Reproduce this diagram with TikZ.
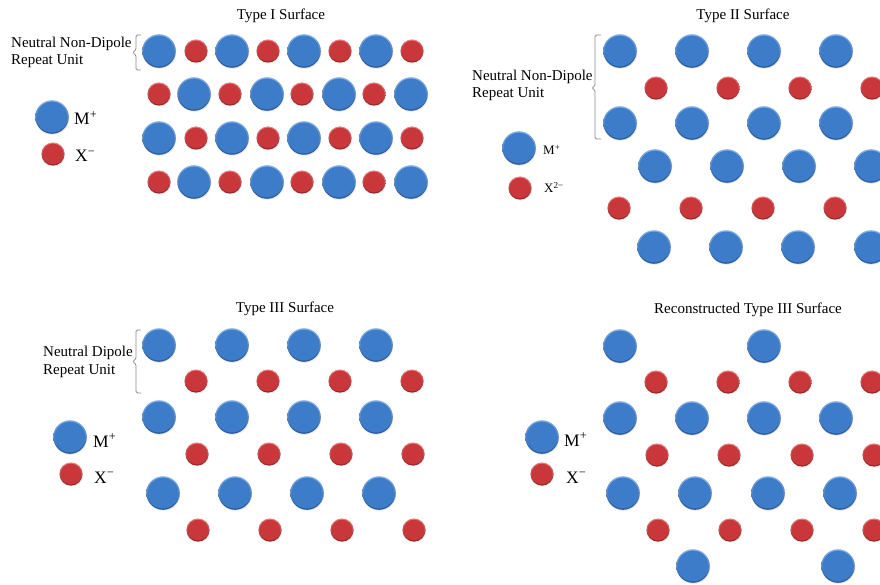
\documentclass[tikz,border=0pt]{standalone}
\usepackage{fontspec}
\setmainfont{Liberation Serif}
\usetikzlibrary{shadows}
\definecolor{bmain}{HTML}{3D7CC9}
\definecolor{btop}{HTML}{86B3EA}
\definecolor{bbot}{HTML}{28589A}
\definecolor{rmain}{HTML}{C9373A}
\definecolor{rtop}{HTML}{EC8080}
\definecolor{rbot}{HTML}{8C2226}
\definecolor{bracegray}{HTML}{8A8A8A}
\tikzset{
  cation/.style={circle, minimum size=33.6pt, inner sep=0pt,
    top color=btop, bottom color=bbot,
    path picture={\fill[bmain] (path picture bounding box.center) circle (15.4pt);},
    drop shadow={opacity=0.18, shadow xshift=0.5pt, shadow yshift=-1pt}},
  anion/.style={circle, minimum size=23.2pt, inner sep=0pt,
    top color=rtop, bottom color=rbot,
    path picture={\fill[rmain] (path picture bounding box.center) circle (10.4pt);},
    drop shadow={opacity=0.18, shadow xshift=0.5pt, shadow yshift=-1pt}},
  title/.style={font=\fontsize{15}{18}\selectfont, inner sep=0pt},
  note/.style={font=\fontsize{15}{17.5}\selectfont, align=left, anchor=base west, inner sep=0pt},
  lab/.style={font=\fontsize{17.5}{20}\selectfont, anchor=base west, inner sep=0pt},
  labsmall/.style={font=\fontsize{13}{15}\selectfont, anchor=base west, inner sep=0pt},
  bracket/.style={draw=bracegray, line width=0.8pt, rounded corners=1.5pt}
}
\begin{document}
\begin{tikzpicture}[x=1pt,y=-1pt]
\useasboundingbox (0,0) rectangle (880,585);
\clip (0,0) rectangle (880,585);

% ---------------- Panel 1: Type I ----------------
\node[title] (t1) at (281,15.5) {Type I Surface};
\node[note] (n1) at (11,65) {Neutral Non-Dipole\\Repeat Unit};
\draw[bracket] (141,35) -| (136,50) -- (132.5,52.5) -- (136,55) |- (141,70);
\foreach \x [count=\i] in {159,232,304,376} \node[cation] (p1a\i) at (\x,51) {};
\foreach \x [count=\i] in {196,268,340,412} \node[anion] (p1b\i) at (\x,51) {};
\foreach \x [count=\i] in {159,230,302,374} \node[anion] (p1c\i) at (\x,94) {};
\foreach \x [count=\i] in {194,267,339,411} \node[cation] (p1d\i) at (\x,94) {};
\foreach \x [count=\i] in {159,232,304,376} \node[cation] (p1e\i) at (\x,138) {};
\foreach \x [count=\i] in {196,268,340,412} \node[anion] (p1f\i) at (\x,138) {};
\foreach \x [count=\i] in {159,230,302,374} \node[anion] (p1g\i) at (\x,182) {};
\foreach \x [count=\i] in {194,267,339,411} \node[cation] (p1h\i) at (\x,182) {};
\node[cation] (l1m) at (52,117) {};
\node[anion] (l1x) at (53,154) {};
\node[lab] (l1mt) at (74,125) {M\textsuperscript{+}};
\node[lab] (l1xt) at (75,162) {X\textsuperscript{−}};

% ---------------- Panel 2: Type II ----------------
\node[title] (t2) at (743,15.5) {Type II Surface};
\node[note] (n2) at (472,98) {Neutral Non-Dipole\\Repeat Unit};
\draw[bracket] (601,35) -| (595,86) -- (591.5,88) -- (595,90) |- (601,139);
\foreach \x [count=\i] in {620,692,764,836} \node[cation] (p2a\i) at (\x,51) {};
\foreach \x [count=\i] in {656,728,800,872} \node[anion] (p2b\i) at (\x,88) {};
\foreach \x [count=\i] in {620,692,764,836} \node[cation] (p2c\i) at (\x,123) {};
\foreach \x [count=\i] in {655,727,799,871} \node[cation] (p2d\i) at (\x,166) {};
\foreach \x [count=\i] in {619,691,763,835} \node[anion] (p2e\i) at (\x,208) {};
\foreach \x [count=\i] in {654,726,798,871} \node[cation] (p2f\i) at (\x,247) {};
\node[cation] (l2m) at (519,148) {};
\node[anion] (l2x) at (520,188) {};
\node[labsmall] (l2mt) at (543,155) {M\textsuperscript{+}};
\node[labsmall] (l2xt) at (544,193) {X\textsuperscript{2−}};

% ---------------- Panel 3: Type III ----------------
\node[title] (t3) at (285,309) {Type III Surface};
\node[note] (n3) at (43,374) {Neutral Dipole\\Repeat Unit};
\draw[bracket] (141,330) -| (136,359) -- (132.5,361.5) -- (136,364) |- (141,393);
\foreach \x [count=\i] in {159,232,304,376} \node[cation] (p3a\i) at (\x,345) {};
\foreach \x [count=\i] in {196,268,340,412} \node[anion] (p3b\i) at (\x,381) {};
\foreach \x [count=\i] in {159,232,304,376} \node[cation] (p3c\i) at (\x,417) {};
\foreach \x [count=\i] in {197,269,341,413} \node[anion] (p3d\i) at (\x,454) {};
\foreach \x [count=\i] in {163,235,307,379} \node[cation] (p3e\i) at (\x,493) {};
\foreach \x [count=\i] in {198,270,342,414} \node[anion] (p3f\i) at (\x,530) {};
\node[cation] (l3m) at (70,437) {};
\node[anion] (l3x) at (71,474) {};
\node[lab] (l3mt) at (93,447) {M\textsuperscript{+}};
\node[lab] (l3xt) at (94,483) {X\textsuperscript{−}};

% ---------------- Panel 4: Reconstructed Type III ----------------
\node[title] (t4) at (748,310) {Reconstructed Type III Surface};
\foreach \x [count=\i] in {620,764} \node[cation] (p4a\i) at (\x,346) {};
\foreach \x [count=\i] in {656,728,800,872} \node[anion] (p4b\i) at (\x,382) {};
\foreach \x [count=\i] in {620,692,764,836} \node[cation] (p4c\i) at (\x,418) {};
\foreach \x [count=\i] in {657,729,802,874} \node[anion] (p4d\i) at (\x,455) {};
\foreach \x [count=\i] in {623,695,768,840} \node[cation] (p4e\i) at (\x,493) {};
\foreach \x [count=\i] in {658,730,802,874} \node[anion] (p4f\i) at (\x,530) {};
\foreach \x [count=\i] in {693,838} \node[cation] (p4g\i) at (\x,566) {};
\node[cation] (l4m) at (542,437) {};
\node[anion] (l4x) at (542,474) {};
\node[lab] (l4mt) at (564,446) {M\textsuperscript{+}};
\node[lab] (l4xt) at (566,483) {X\textsuperscript{−}};
\end{tikzpicture}
\end{document}
